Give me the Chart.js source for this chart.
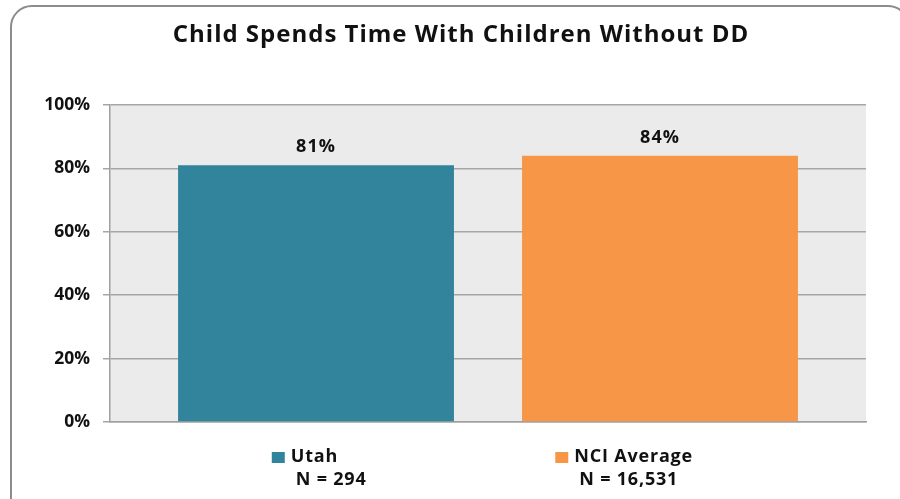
<!DOCTYPE html>
<html>
<head>
<meta charset="utf-8">
<script src="https://cdn.jsdelivr.net/npm/chart.js@4.4.0/dist/chart.umd.min.js"></script>
<style>
    html, body { margin: 0; padding: 0; background: #fff; }
    #wrap { position: relative; width: 900px; height: 499px; overflow: hidden; }
    #frame {
        position: absolute; left: 10px; top: 5px; width: 900px; height: 520px;
        border: 2px solid #8c8c8c; border-radius: 22px; box-sizing: border-box;
    }
    canvas { position: absolute; left: 0; top: 0; }
</style>
</head>
<body>
<div id="wrap">
    <div id="frame"></div>
    <canvas id="myChart" width="900" height="499"></canvas>
</div>
<script>
'use strict';
// Chart data
const titleText = 'Child Spends Time With Children Without DD';
const categories = [''];
const seriesNames = ['Utah', 'NCI Average'];
const seriesN = ['N = 294', 'N = 16,531'];
const utahValues = [81];
const nciValues = [84];
const yTicks = [0, 20, 40, 60, 80, 100];

const FONT = '"Open Sans", Lato, sans-serif';
const colors = ['#31849b', '#f79646'];

//Plot background, title, value labels, legend under the bars
const extras = {
    id: 'extras',
    beforeDraw(chart) {
        const ca = chart.chartArea;
        const ctx = chart.ctx;
        ctx.save();
        ctx.fillStyle = '#ebebeb';
        ctx.fillRect(ca.left, ca.top, ca.right - ca.left, ca.bottom - ca.top);
        ctx.restore();
    },
    afterDraw(chart) {
        const ctx = chart.ctx;
        const ca = chart.chartArea;
        ctx.save();
        ctx.fillStyle = '#111';
        ctx.textAlign = 'center';
        ctx.textBaseline = 'middle';
        ctx.font = 'bold 24px ' + FONT;
        ctx.letterSpacing = '1px';
        ctx.fillText(titleText, 461, 35);

        ctx.font = 'bold 18px ' + FONT;
        ctx.letterSpacing = '1px';
        chart.data.datasets.forEach((ds, i) => {
            const bar = chart.getDatasetMeta(i).data[0];
            ctx.textAlign = 'center';
            ctx.fillText(ds.data[0] + '%', bar.x, bar.y - 18);
        });

        // legend entries
        const starts = [0.214, 0.589];
        ctx.font = 'bold 18px ' + FONT;
        ctx.letterSpacing = '0.8px';
        chart.data.datasets.forEach((ds, i) => {
            const x = ca.left + (ca.right - ca.left) * starts[i];
            ctx.fillStyle = ds.backgroundColor;
            ctx.fillRect(x, ca.bottom + 30, 13, 11);
            ctx.fillStyle = '#111';
            ctx.textAlign = 'left';
            ctx.fillText(ds.label, x + 19, ca.bottom + 35);
            ctx.fillText(seriesN[i], x + 24, ca.bottom + 58);
        });
        ctx.restore();
    },
};

const data = {
    labels: categories,
    datasets: [
        {
            label: seriesNames[0],
            data: utahValues,
            backgroundColor: colors[0],
            categoryPercentage: 0.91,
            barPercentage: 0.802,
        },
        {
            label: seriesNames[1],
            data: nciValues,
            backgroundColor: colors[1],
            categoryPercentage: 0.91,
            barPercentage: 0.802,
        },
    ],
};

const config = {
    type: 'bar',
    data: data,
    plugins: [extras],
    options: {
        responsive: false,
        animation: false,
        layout: {
            padding: { top: 105, left: 0, right: 34, bottom: 77 },
        },
        scales: {
            x: {
                ticks: { display: false },
                grid: { display: false },
                border: { display: true, color: '#a0a0a0', width: 1.5 },
                afterFit: (scale) => {
                    scale.height = 0;
                },
            },
            y: {
                min: 0,
                max: 100,
                afterBuildTicks: (scale) => {
                    scale.ticks = yTicks.map((v) => ({ value: v }));
                },
                afterFit: (scale) => {
                    scale.width = 110;
                },
                ticks: {
                    padding: 13,
                    color: '#111',
                    font: { family: FONT, size: 17.5, weight: 'bold' },
                    callback: (v) => v + '%',
                },
                grid: {
                    color: '#a6a6a6',
                    lineWidth: 1.5,
                    tickLength: 7,
                },
                border: { display: true, color: '#a0a0a0', width: 1.5 },
            },
        },
        plugins: {
            legend: { display: false },
            title: { display: false },
            tooltip: { enabled: false },
        },
    },
};
const myChart = new Chart(document.getElementById('myChart'), config);
</script>
</body>
</html>
